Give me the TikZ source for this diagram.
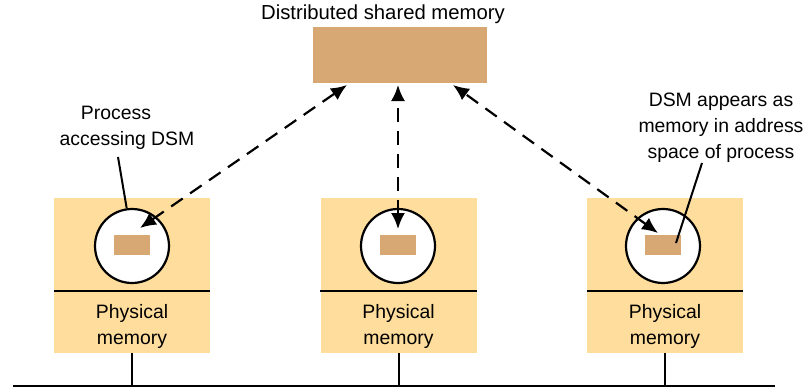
\documentclass[tikz,border=0pt]{standalone}
\usepackage{fontspec}
\setmainfont{Liberation Sans}
\usetikzlibrary{arrows.meta}
\definecolor{boxfill}{HTML}{FFDD9C}
\definecolor{dsmfill}{HTML}{D8A874}
\begin{document}
\begin{tikzpicture}[x=1pt,y=-1pt,
  txt/.style={font=\fontsize{19.4}{26}\selectfont, align=center, inner sep=0pt},
  membox/.style={fill=boxfill, draw=none, minimum width=156pt, minimum height=155pt, inner sep=0pt},
  proc/.style={circle, draw, line width=2.2pt, fill=white, minimum size=74pt, inner sep=0pt},
  seg/.style={fill=dsmfill, minimum width=36pt, minimum height=20pt, inner sep=0pt},
  acc/.style={line width=2.2pt, dash pattern=on 14pt off 9pt, {Latex[length=16pt,width=14pt]}-{Latex[length=16pt,width=14pt]}},
  wire/.style={line width=2pt}]
\useasboundingbox (0,0) rectangle (806,388);
% shared memory
\node[txt, font=\fontsize{20.3}{26}\selectfont] (title) at (383,14) {Distributed shared memory};
\node[fill=dsmfill, minimum width=174pt, minimum height=56pt, inner sep=0pt] (dsm) at (400,55) {};
% machines
\foreach \n/\x/\cx in {1/132/132, 2/398.5/398, 3/665/663}{
  \node[membox] (m\n) at (\x,275.5) {};
  \draw[wire] (m\n.west |- 0,291) -- (m\n.east |- 0,291);
  \node[proc] (c\n) at (\cx,246) {};
  \node[seg] (s\n) at (\cx,245) {};
  \node[txt] (pm\n) at (\x,326) {Physical\\memory};
}
% bus
\coordinate (busL) at (13,386);
\coordinate (busR) at (775,386);
\draw[wire] (busL) -- (busR);
\foreach \n in {1,2,3}{\draw[wire] (m\n.south) -- (m\n.south |- busL);}
% access arrows
\coordinate (t1) at (347,85);
\coordinate (t2) at (398,85);
\coordinate (t3) at (453,85);
\coordinate (b1) at (140,228);
\coordinate (b2) at (398,229);
\coordinate (b3) at (658,233);
\draw[acc] (b1) -- (t1);
\draw[acc] (b2) -- (t2);
\draw[acc] (b3) -- (t3);
% labels
\node[txt] (lbl1) at (127,127.5) {Process\hspace*{22pt}\\accessing DSM};
\coordinate (l1) at (118,157);
\draw[wire] (l1) -- (c1.98);
\node[txt] (lbl2) at (721,128) {DSM appears as\\memory in address\\space of process};
\coordinate (l2) at (702,163);
\coordinate (l2e) at (676,243);
\draw[wire] (l2) -- (l2e);
\end{tikzpicture}
\end{document}
